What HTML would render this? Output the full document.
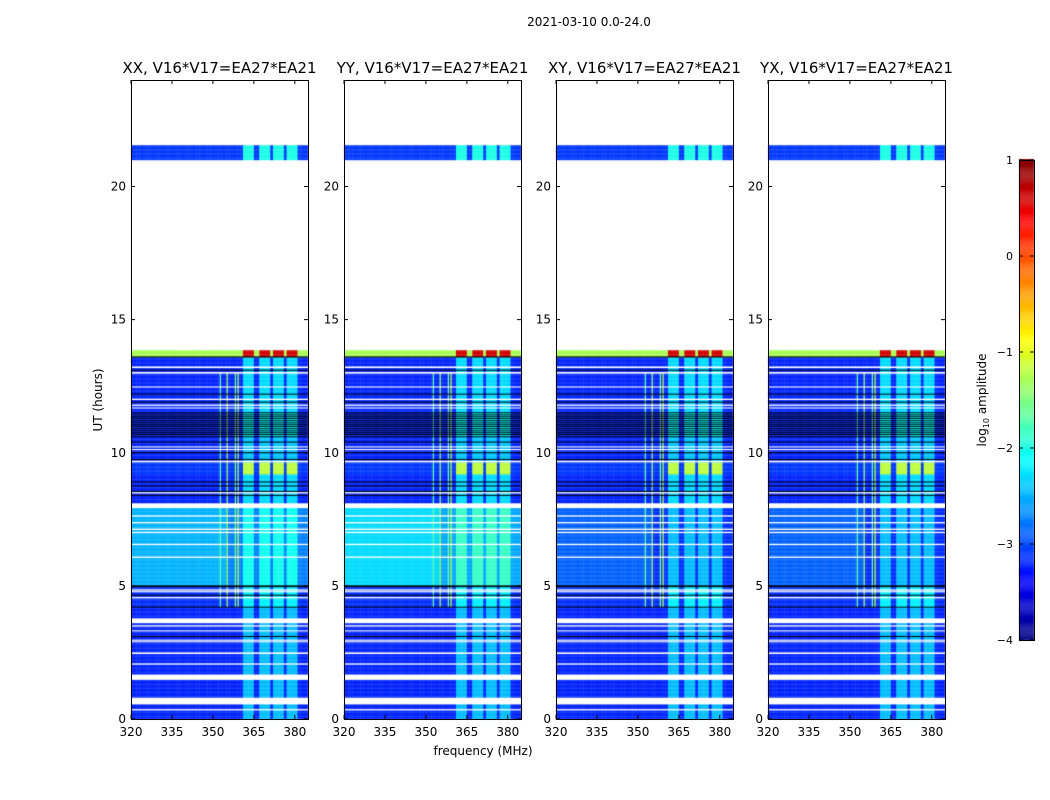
<!DOCTYPE html>
<html><head><meta charset="utf-8">
<style>
body{margin:0;background:#fff;width:1050px;height:800px;overflow:hidden;font-family:"DejaVu Sans","Liberation Sans",sans-serif}
#root{position:relative;width:1050px;height:800px}
canvas{position:absolute}
svg{position:absolute;left:0;top:0;font-family:"DejaVu Sans","Liberation Sans",sans-serif}
</style></head>
<body>
<div id="root">
<svg id="ax" width="1050" height="800"></svg>
</div>
<script>
// ---- data ----
const panelTitles = ["XX, V16*V17=EA27*EA21","YY, V16*V17=EA27*EA21","XY, V16*V17=EA27*EA21","YX, V16*V17=EA27*EA21"];
const freqTicks = [320,335,350,365,380];
const timeTicks = [0,5,10,15,20];
const cbarTicks = [1,0,-1,-2,-3,-4];
// time segments: [start hr, end hr, base log10 amplitude, block activity]
const segStart = [0, 4.2, 5.0, 8.0, 9.2, 9.65, 10.6, 11.5, 13.6, 21.0];
const segEnd   = [4.2, 5.0, 8.0, 9.2, 9.65, 10.6, 11.5, 13.6, 13.85, 21.55];
const segBase  = [-3.2, -3.15, -2.9, -3.2, -3.1, -3.2, -3.2, -3.2, -1.3, -3.1];
const segAct   = [0.75, 0.95, 0.7, 0.9, 1.9, 0.8, 1.1, 0.9, 1.6, 1.1];
// per panel offset for the 5-8 h band
const panelBandOffset = [0.3, 0.5, -0.1, -0.1];
// flagged (white) rows: [start, end]
const gapStart = [13.18,12.97,12.45,11.98,11.76,11.66,10.2,10.1,9.64,8.47,7.92,7.6,7.35,7.1,6.98,6.53,6.05,4.82,4.76,4.53,3.6,3.47,3.29,2.94,2.88,2.44,2.04,1.47,0.55,0.32];
const gapEnd   = [13.24,13.03,12.49,12.03,11.81,11.7,10.24,10.14,9.7,8.52,8.1,7.65,7.4,7.15,7.03,6.58,6.1,4.87,4.8,4.58,3.78,3.52,3.33,2.98,2.92,2.5,2.09,1.67,0.8,0.37];
// black (zero) rows
const blackTimes = [13.6,13.1,12.2,11.9,11.5,11.42,11.35,11.28,11.2,11.12,11.05,10.98,10.9,10.82,10.75,10.68,10.6,10.4,10.0,9.75,8.9,8.75,8.55,8.4,5.0,4.97,4.65,4.2,3.1];
// frequency channels (MHz) and block boost
const channels = [];for(let f=320;f<=384;f++)channels.push(f);
const blockStart = [361,366.6,371.7,376.8];
const blockEnd   = [365,370.7,375.7,380.8];
// narrow RFI lines
const rfiFreq = [352.5,355,358,359];
const rfiLevel = [-1.7,-1.4,-1.6,-1.3];

// ---- axes mapping ----
const panelX = [131,344,556,768], PW=177, PT=80, PB=719;
const fx = (p,f)=>panelX[p]+(f-320)*2.73;
const ty = t=>PB-t*(PB-PT)/24;
function jet(v){
  let x=(v+4)/5; x=Math.max(0,Math.min(1,x));
  const c=(a)=>Math.max(0,Math.min(1,a));
  const r=c(1.5-Math.abs(4*x-3)), g=c(1.5-Math.abs(4*x-2)), b=c(1.5-Math.abs(4*x-1));
  return `rgb(${Math.round(r*255)},${Math.round(g*255)},${Math.round(b*255)})`;
}
function blockAt(f){for(let i=0;i<blockStart.length;i++)if(f>=blockStart[i]&&f<blockEnd[i])return 1;return 0;}
const root=document.getElementById('root');
const svg=document.getElementById('ax');
const NS="http://www.w3.org/2000/svg";
function mk(tag,attrs,name,txt){const e=document.createElementNS(NS,tag);for(const k in attrs)e.setAttribute(k,attrs[k]);


if(txt!==undefined)e.textContent=txt;svg.appendChild(e);return e;}

const dt=0.05;
for(let p=0;p<4;p++){
  const cv=document.createElement('canvas');
  cv.width=1050;cv.height=800;cv.style.left='0px';cv.style.top='0px';
  
  
  root.insertBefore(cv,svg);
  const ctx=cv.getContext('2d');
  for(let s=0;s<segStart.length;s++){
    for(let t=segStart[s];t<segEnd[s]-1e-9;t+=dt){
      const t1=Math.min(t+dt,segEnd[s]);
      for(const f of channels){
        let v=segBase[s]+blockAt(f)*segAct[s];
        if(s===2)v+=panelBandOffset[p]+(f<355?0.1:-0.15);
        if(s===8&&blockAt(f))v+=0.3;
        const x0=fx(p,f), x1=Math.min(fx(p,f+1),panelX[p]+PW);
        ctx.fillStyle=jet(v);
        ctx.fillRect(x0,ty(t1),x1-x0+0.3,ty(t)-ty(t1)+0.3);
      }
    }
  }
  // RFI lines drawn on top, 4.2-13 h
  for(let k=0;k<rfiFreq.length;k++){
    ctx.fillStyle=jet(rfiLevel[k]);
    ctx.fillRect(fx(p,rfiFreq[k]),ty(13.0),1.3,ty(4.2)-ty(13.0));
  }
  ctx.fillStyle='#fff';
  for(let g=0;g<gapStart.length;g++){ctx.fillRect(panelX[p],ty(gapEnd[g]),PW,ty(gapStart[g])-ty(gapEnd[g]));}
  ctx.fillStyle='#000';
  for(const b of blackTimes){ctx.fillRect(panelX[p],ty(b)-0.5,PW,1);}
  mk('rect',{x:panelX[p]+0.5,y:PT+0.5,width:PW,height:PB-PT,fill:'none',stroke:'#000','stroke-width':1},'panel-frame-'+p);
  mk('text',{x:panelX[p]+PW/2,y:73,'text-anchor':'middle','font-size':15},'panel-title-'+p,panelTitles[p]);
  for(const f of freqTicks){const x=fx(p,f);
    mk('line',{x1:x,x2:x,y1:PB,y2:PB-4,stroke:'#000'},'x-tick');
    mk('line',{x1:x,x2:x,y1:PT,y2:PT+4,stroke:'#000'},'x-tick-top');
    mk('text',{x:x,y:736,'text-anchor':'middle','font-size':12},'x-tick-label',String(f));}
  for(const t of timeTicks){const y=ty(t);
    mk('line',{x1:panelX[p],x2:panelX[p]+4,y1:y,y2:y,stroke:'#000'},'y-tick');
    mk('line',{x1:panelX[p]+PW,x2:panelX[p]+PW-4,y1:y,y2:y,stroke:'#000'},'y-tick-right');
    mk('text',{x:panelX[p]-5,y:y+4,'text-anchor':'end','font-size':12},'y-tick-label',String(t));}
}
mk('text',{x:589,y:26,'text-anchor':'middle','font-size':12},'figure-title','2021-03-10 0.0-24.0');
mk('text',{x:483,y:755,'text-anchor':'middle','font-size':12},'x-axis-title','frequency (MHz)');
mk('text',{x:102,y:400,'text-anchor':'middle','font-size':12,transform:'rotate(-90 102 400)'},'y-axis-title','UT (hours)');
const cb=document.createElement('canvas');cb.width=1050;cb.height=800;cb.style.left='0px';cb.style.top='0px';


root.insertBefore(cb,svg);
const cctx=cb.getContext('2d');
const cy=v=>640-(v+4)*96;
for(let v=-4;v<1;v+=0.01){cctx.fillStyle=jet(v);cctx.fillRect(1019,cy(v+0.01),15,1.2);}
mk('rect',{x:1019.5,y:160.5,width:15,height:480,fill:'none',stroke:'#000'},'colorbar-frame');
for(const v of cbarTicks){const y=cy(v);
  mk('line',{x1:1019,x2:1023,y1:y,y2:y,stroke:'#000'},'colorbar-tick');
  mk('line',{x1:1030,x2:1034,y1:y,y2:y,stroke:'#000'},'colorbar-tick-right');
  mk('text',{x:1013,y:y+4,'text-anchor':'end','font-size':11},'colorbar-tick-label',v<0?'\u2212'+(-v):String(v));}
const lab=mk('text',{x:986,y:400,'text-anchor':'middle','font-size':12,transform:'rotate(-90 986 400)'},'colorbar-label');
lab.innerHTML='log<tspan font-size="8" dy="3">10</tspan><tspan dy="-3"> amplitude</tspan>';
</script>
</body></html>
